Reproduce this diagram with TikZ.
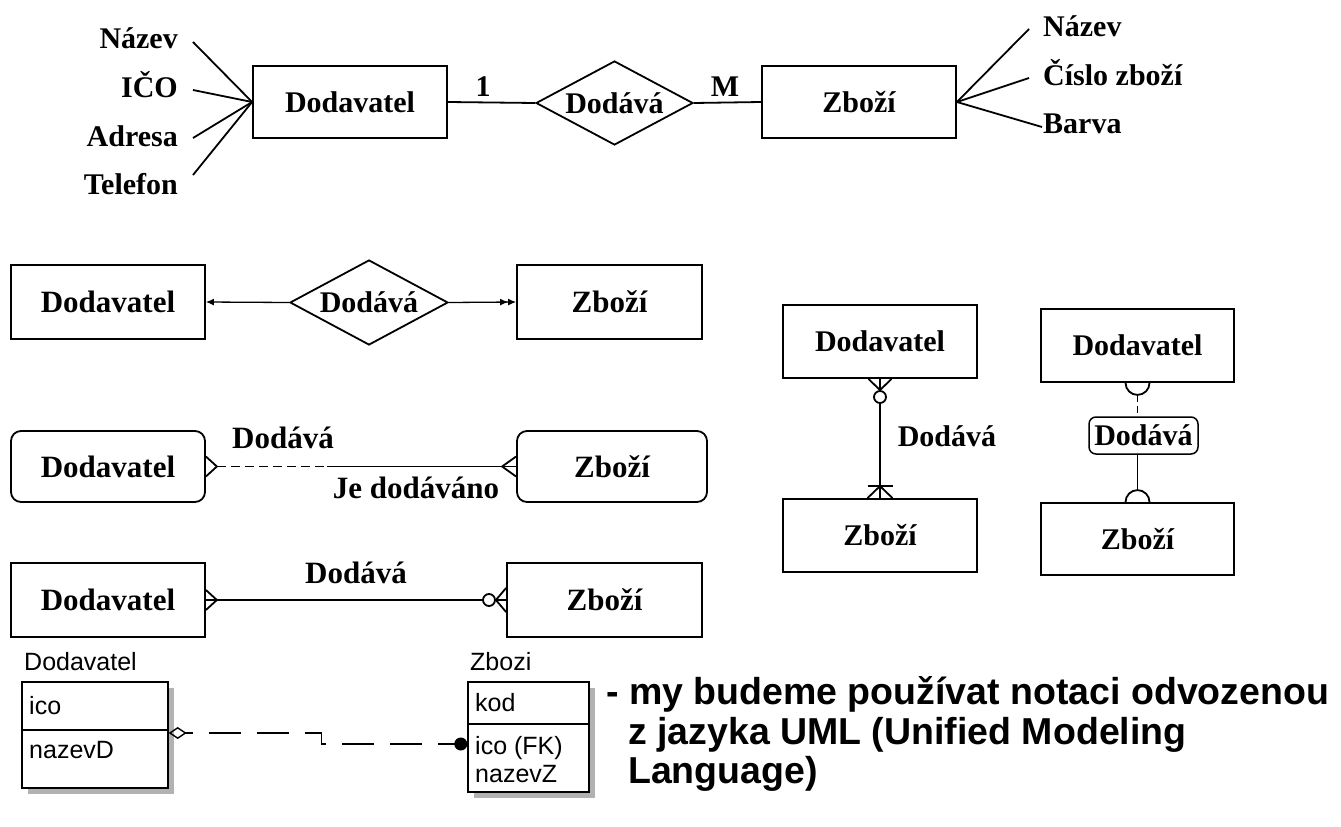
\documentclass[tikz,border=0pt]{standalone}
\usepackage{fontspec}
\setmainfont{Liberation Serif}
\newfontfamily\umlfont{Liberation Sans}
\newfontfamily\notefont{Liberation Sans}
\usetikzlibrary{shapes.geometric,arrows.meta}
\begin{document}
\begin{tikzpicture}[x=1pt,y=-1pt,
  lw/.style={line width=1.8pt},
  every node/.style={font=\fontsize{30}{34}\selectfont\bfseries, inner sep=0pt},
  big/.style={font=\fontsize{31}{35}\selectfont\bfseries},
  ent/.style={draw,line width=1.8pt,minimum height=72pt},
  rent/.style={ent,rounded corners=10pt},
  rel/.style={draw,diamond,aspect=1.87,line width=1.8pt,inner sep=0pt},
  umlbox/.style={draw,fill=white,line width=1.4pt,inner sep=0pt,
    preaction={draw=none,fill=gray!60,transform canvas={xshift=6pt,yshift=-6pt}}},
  umltxt/.style={font=\umlfont\fontsize{25}{28}\selectfont,inner sep=0pt},
  notetxt/.style={font=\notefont\bfseries\fontsize{37.5}{40}\selectfont,inner sep=0pt},
]
\useasboundingbox (0,0) rectangle (1341,827);

% ---------- Row 1: Chen notation with attributes ----------
\node[ent,minimum width=194pt] (dod1) at (350,102) {Dodavatel};
\node[ent,minimum width=194pt] (zb1) at (859,102) {Zboží};
\node[rel,minimum width=157pt,minimum height=84pt] (rel1) at (614.5,103) {Dodává};
\draw[lw] (dod1.east) -- (rel1.west);
\draw[lw] (rel1.east) -- (zb1.west);
\node (one) at (483,87) {1};
\node (many) at (725,87) {M};

\node[anchor=base east] (a1) at (178,48) {Název};
\node[anchor=base east] (a2) at (178,97) {IČO};
\node[anchor=base east] (a3) at (178,146) {Adresa};
\node[anchor=base east] (a4) at (178,194) {Telefon};
\draw[lw] ([shift={(15pt,6pt)}]a1.base east) -- (dod1.west);
\draw[lw] ([shift={(15pt,7pt)}]a2.base east) -- (dod1.west);
\draw[lw] ([shift={(15pt,8pt)}]a3.base east) -- (dod1.west);
\draw[lw] ([shift={(15pt,19pt)}]a4.base east) -- (dod1.west);

\node[anchor=base west] (b1) at (1043,36) {Název};
\node[anchor=base west] (b2) at (1043,85) {Číslo zboží};
\node[anchor=base west] (b3) at (1043,133) {Barva};
\draw[lw] (zb1.east) -- ([shift={(-14pt,7pt)}]b1.base west);
\draw[lw] (zb1.east) -- ([shift={(-14pt,7pt)}]b2.base west);
\draw[lw] (zb1.east) -- ([shift={(-1pt,6pt)}]b3.base west);

% ---------- Row 2: arrows ----------
\node[ent,big,minimum width=194pt,minimum height=74pt] (dod2) at (108,302) {Dodavatel};
\node[rel,minimum width=158pt,minimum height=85pt] (rel2) at (369,302.5) {Dodává};
\node[ent,big,minimum width=185pt,minimum height=74pt] (zb2) at (609.5,302) {Zboží};
\draw[line width=1.3pt,-{Latex[length=8pt,width=7pt]}] (rel2.west) -- (dod2.east);
\draw[line width=1.3pt,-{Latex[length=8pt,width=7pt]Latex[length=8pt,width=7pt]}] (rel2.east) -- (zb2.west);

% ---------- Row 3: Barker notation ----------
\node[rent,big,minimum width=194pt,minimum height=71pt] (dod3) at (108,466.5) {Dodavatel};
\node[rent,big,minimum width=190pt,minimum height=71pt] (zb3) at (612,466.5) {Zboží};
\coordinate (cf3l) at ([xshift=11pt]dod3.east);
\coordinate (cf3r) at ([xshift=-14pt]zb3.west);
\coordinate (mid3) at (327,466.5);
\draw[lw] ([yshift=10pt]dod3.east) -- (cf3l) -- ([yshift=-10pt]dod3.east);
\draw[lw,dash pattern=on 9pt off 5pt] (cf3l) -- (mid3);
\draw[lw] (mid3) -- (zb3.west);
\draw[lw] ([yshift=10pt]zb3.west) -- (cf3r) -- ([yshift=-10pt]zb3.west);
\node[big] (l3a) at (283,438) {Dodává};
\node[big] (l3b) at (416,488) {Je dodáváno};

% ---------- Row 4: crow's foot ----------
\node[ent,big,minimum width=194pt,minimum height=74pt] (dod4) at (108,600) {Dodavatel};
\node[ent,big,minimum width=195pt,minimum height=74pt] (zb4) at (604.5,600) {Zboží};
\node[draw,circle,lw,minimum size=12pt] (c4) at (489,600) {};
\coordinate (cf4l) at ([xshift=11pt]dod4.east);
\draw[lw] ([yshift=10pt]dod4.east) -- (cf4l) -- ([yshift=-10pt]dod4.east);
\draw[lw] (dod4.east) -- (c4.west);
\draw[lw] ([yshift=12pt]zb4.west) -- (c4.east) -- ([yshift=-12pt]zb4.west);
\draw[lw] (c4.east) -- (zb4.west);
\node[big] (l4) at (356,573) {Dodává};

% ---------- Right: vertical crow's foot ----------
\node[ent,minimum width=194pt,minimum height=73pt] (dodR1) at (880,341.5) {Dodavatel};
\node[ent,minimum width=194pt,minimum height=73pt] (zbR1) at (880,535.5) {Zboží};
\draw[lw] (dodR1.south) -- (zbR1.north);
\node[draw,circle,lw,fill=white,minimum size=12pt] (cR) at (880,397) {};
\draw[lw] ([xshift=-11.5pt]dodR1.south) -- (cR.north) -- ([xshift=11.5pt]dodR1.south);
\coordinate (barR) at ([yshift=12pt]zbR1.north);
\draw[lw] ([xshift=-12.5pt]zbR1.north) -- (barR) -- ([xshift=12.5pt]zbR1.north);
\draw[lw] ([xshift=-12.5pt]barR) -- ([xshift=12.5pt]barR);
\node (lR) at (947,436) {Dodává};

% ---------- Right: semicircle notation ----------
\node[ent,minimum width=193pt,minimum height=73pt] (dodR2) at (1137.5,345.5) {Dodavatel};
\node[ent,minimum width=193pt,minimum height=72pt] (zbR2) at (1137.5,539) {Zboží};
\node[draw,line width=1.5pt,rounded corners=7pt,minimum width=109pt,minimum height=37pt] (relR) at (1143.5,435.5) {Dodává};
\draw[lw] ([xshift=-12pt]dodR2.south) arc[start angle=180,end angle=360,radius=12pt];
\draw[lw] ([xshift=-12pt]zbR2.north) arc[start angle=180,end angle=0,radius=12pt];
\draw[lw,dash pattern=on 7pt off 4pt] ([yshift=-12pt]dodR2.south) -- (dodR2.south |- relR.north);
\draw[lw] (dodR2.south |- relR.south) -- ([yshift=12pt]zbR2.north);

% ---------- Bottom: UML-like tool notation ----------
\node[umltxt,anchor=west] (tD) at (24,662) {Dodavatel};
\node[umltxt,anchor=west] (tZ) at (470,662) {Zbozi};
\node[umlbox,minimum width=146pt,minimum height=106pt] (umlD) at (95,735) {};
\draw[line width=1.4pt] ([yshift=5pt]umlD.west) -- ([yshift=5pt]umlD.east);
\node[umltxt,anchor=west] (uD1) at (29,706) {ico};
\node[umltxt,anchor=west] (uD2) at (29,750) {nazevD};
\node[umlbox,minimum width=121pt,minimum height=110pt] (umlZ) at (528.5,737) {};
\draw[line width=1.4pt] ([yshift=13pt]umlZ.west) -- ([yshift=13pt]umlZ.east);
\node[umltxt,anchor=west] (uZ1) at (475,703) {kod};
\node[umltxt,anchor=west] (uZ2) at (475,748) {ico (FK)};
\node[umltxt,anchor=west] (uZ3) at (475,774) {nazevZ};
\draw[line width=1.4pt,dash pattern=on 32pt off 16pt,dash phase=24pt,
  {Diamond[open,length=18pt,width=12pt]}-{Circle[length=13pt]}]
  ([yshift=2pt]umlD.east) -- ++(153,0) |- ([yshift=-7pt]umlZ.west);

% ---------- Note ----------
\node[notetxt,anchor=base west] (n1) at (606,704) {- my budeme používat notaci odvozenou};
\node[notetxt,anchor=base west] (n2) at (628,744) {z jazyka UML (Unified Modeling};
\node[notetxt,anchor=base west] (n3) at (628,783) {Language)};
\end{tikzpicture}
\end{document}
